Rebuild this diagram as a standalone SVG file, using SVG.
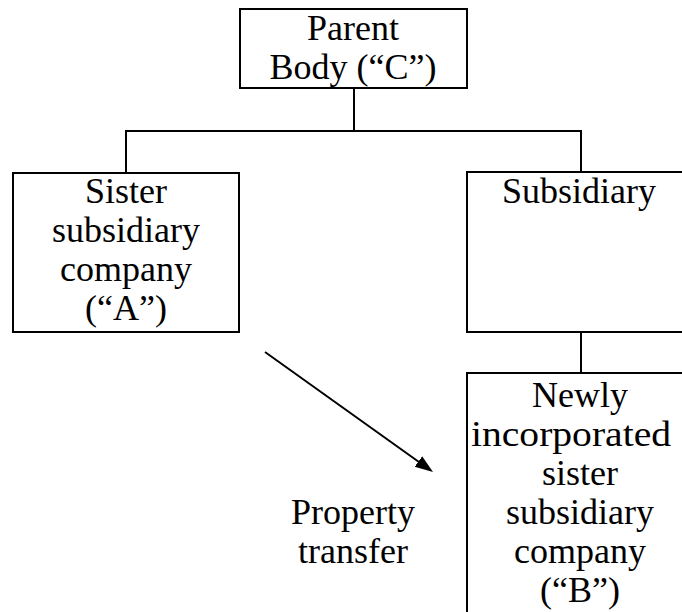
<svg xmlns="http://www.w3.org/2000/svg" width="682" height="612" viewBox="0 0 682 612">
<style>
.box{fill:#fff;stroke:#000;stroke-width:2}
.ln{stroke:#000;stroke-width:2;fill:none}
text{font-family:"Liberation Serif","Times New Roman",serif;font-size:36px;fill:#000;text-anchor:middle}
</style>
<defs>
<marker id="ah" markerUnits="userSpaceOnUse" markerWidth="20" markerHeight="14" refX="2" refY="6.5" orient="auto">
<path d="M0,0 L18,6.5 L0,13 z" fill="#000"/>
</marker>
</defs>
<rect width="682" height="612" fill="#fff"/>
<g id="connectors">
<line class="ln" x1="354" y1="88" x2="354" y2="131"/>
<line class="ln" x1="125" y1="131" x2="582" y2="131"/>
<line class="ln" x1="126" y1="131" x2="126" y2="173"/>
<line class="ln" x1="581" y1="131" x2="581" y2="172"/>
<line class="ln" x1="581" y1="332" x2="581" y2="373"/>
<line class="ln" x1="265" y1="352" x2="420" y2="462.7" marker-end="url(#ah)"/>
</g>
<g id="parent">
<rect class="box" x="240" y="9" width="227" height="79"/>
<text x="353" y="40">Parent</text>
<text x="353" y="79">Body (“C”)</text>
</g>
<g id="sisterA">
<rect class="box" x="13" y="173" width="226" height="159"/>
<text x="126" y="203">Sister</text>
<text x="126" y="242">subsidiary</text>
<text x="126" y="281">company</text>
<text x="126" y="320">(“A”)</text>
</g>
<g id="subsidiary">
<rect class="box" x="467" y="172" width="240" height="160"/>
<text x="579" y="203">Subsidiary</text>
</g>
<g id="sisterB">
<rect class="box" x="467" y="373" width="240" height="260"/>
<text x="580" y="407">Newly</text>
<text x="571" y="446" textLength="200" lengthAdjust="spacingAndGlyphs">incorporated</text>
<text x="580" y="485">sister</text>
<text x="580" y="524">subsidiary</text>
<text x="580" y="563">company</text>
<text x="580" y="602">(“B”)</text>
</g>
<g id="label">
<text x="353" y="524">Property</text>
<text x="353" y="563">transfer</text>
</g>
</svg>
